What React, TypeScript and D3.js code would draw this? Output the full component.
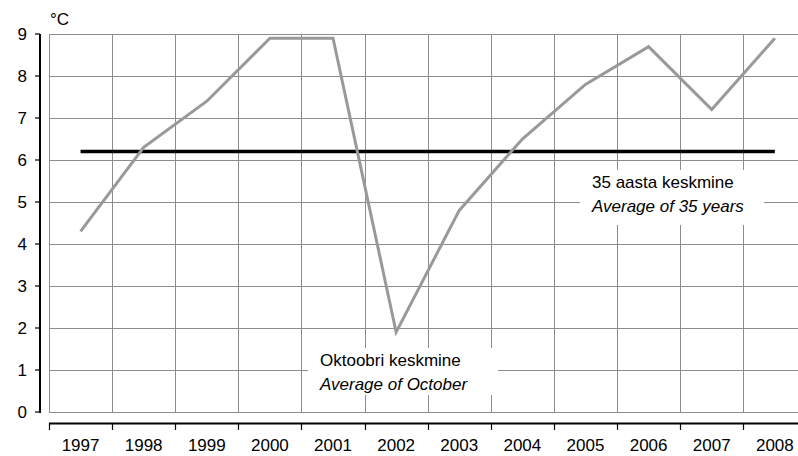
import React from 'react';
import * as d3 from 'd3';

// October mean temperature, Estonia
const years = ['1997', '1998', '1999', '2000', '2001', '2002', '2003', '2004', '2005', '2006', '2007', '2008'];
const octoberMean = [4.3, 6.3, 7.4, 8.9, 8.9, 1.9, 4.8, 6.5, 7.8, 8.7, 7.2, 8.9];
const average35 = 6.2;
const yTicks = [0, 1, 2, 3, 4, 5, 6, 7, 8, 9];

const W = 798;
const H = 456;
const FONT = 'Arial, "Liberation Sans", Helvetica, sans-serif';

export default function App() {
  const x = d3.scaleBand<string>().domain(years).range([49, 806.4]).padding(0);
  const y = d3.scaleLinear().domain([0, 9]).range([412, 34]);
  const cx = (d: string) => (x(d) as number) + x.bandwidth() / 2;

  const line = d3
    .line<number>()
    .x((_, i) => cx(years[i]))
    .y((d) => y(d));

  const bounds = years.map((d) => x(d) as number);
  const plotLeft = 49;
  const plotRight = 806.4;

  // label boxes (white backgrounds hiding the grid)
  const notes = [
    { x: 580, top: 170, lines: ['35 aasta keskmine', 'Average of 35 years'], base: 188, w: 184, h: 55 },
    { x: 308, top: 348, lines: ['Oktoobri keskmine', 'Average of October'], base: 365.5, w: 190, h: 47 },
  ];

  return (
    <div style={{ position: 'fixed', left: 0, top: 0, width: W, height: H, background: '#fff' }}>
      <svg width={W} height={H} style={{ display: 'block', fontFamily: FONT }}>
        <rect width={W} height={H} fill="#fff" />

        {/* grid */}
        <g shapeRendering="crispEdges" stroke="#8c8c8c" strokeWidth={1}>
          {yTicks.map((t) => (
            <line key={'h' + t} x1={plotLeft} x2={plotRight} y1={Math.round(y(t)) + 0.5} y2={Math.round(y(t)) + 0.5} />
          ))}
          {bounds.map((b, i) => (
            <line key={'v' + i} x1={Math.round(b) + 0.5} x2={Math.round(b) + 0.5} y1={y(9)} y2={y(0)} />
          ))}
        </g>

        {/* y axis */}
        <line x1={40} x2={40} y1={y(9)} y2={y(0) + 1} stroke="#000" strokeWidth={2} />
        {yTicks.map((t) => (
          <g key={'yt' + t}>
            <line x1={35} x2={40} y1={y(t)} y2={y(t)} stroke="#000" strokeWidth={1.2} />
            <text x={27} y={y(t)} dy="0.35em" textAnchor="end" fontSize={17} fill="#000">
              {t}
            </text>
          </g>
        ))}
        <text x={50} y={25} fontSize={17} fill="#000">°C</text>

        {/* x axis */}
        <line x1={plotLeft} x2={W} y1={423.5} y2={423.5} stroke="#000" strokeWidth={2.2} />
        {bounds.map((b, i) => (
          <line key={'xt' + i} x1={Math.round(b) + 0.5} x2={Math.round(b) + 0.5} y1={423} y2={430} stroke="#000" strokeWidth={1.2} />
        ))}
        {years.map((d) => (
          <text key={'xl' + d} x={cx(d)} y={451} textAnchor="middle" fontSize={17} fill="#000">
            {d}
          </text>
        ))}

        {/* 35-year average */}
        <line
          x1={cx(years[0])}
          x2={cx(years[years.length - 1])}
          y1={y(average35)}
          y2={y(average35)}
          stroke="#000"
          strokeWidth={3.5}
        />

        {/* October mean */}
        <path d={line(octoberMean) || ''} fill="none" stroke="#999" strokeWidth={3} strokeLinejoin="miter" />

        {/* annotations */}
        {notes.map((n, i) => (
          <g key={'n' + i}>
            <rect x={n.x} y={n.top} width={n.w} height={n.h} fill="#fff" />
            <text x={n.x + 12} y={n.base} fontSize={17} fill="#000">{n.lines[0]}</text>
            <text x={n.x + 12} y={n.base + 24} fontSize={17} fontStyle="italic" fill="#000">{n.lines[1]}</text>
          </g>
        ))}
      </svg>
    </div>
  );
}
